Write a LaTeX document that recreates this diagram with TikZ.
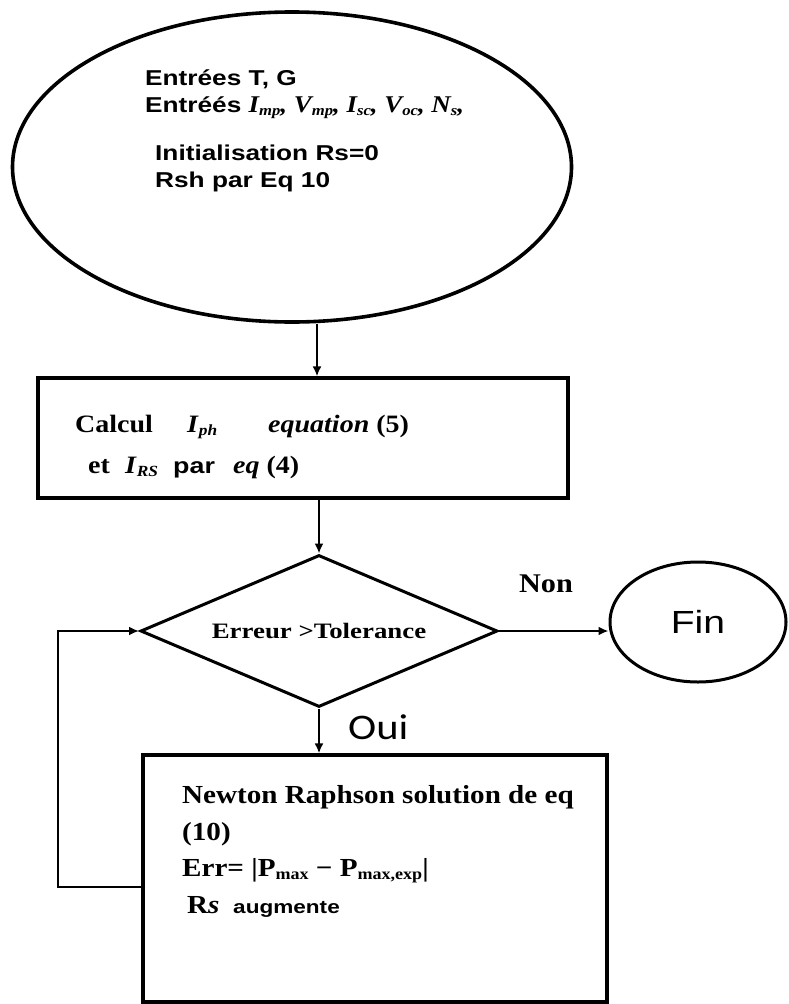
\documentclass[tikz,border=0pt]{standalone}
\usepackage{fontspec}
\usepackage{graphicx}
\usetikzlibrary{shapes.geometric,arrows.meta}

% Text faces
\newfontfamily\sansw[FakeStretch=1.22]{Liberation Sans}
\newfontfamily\serifw[FakeStretch=1.12]{Liberation Serif}
\newfontfamily\serifd[FakeStretch=1.22]{Liberation Serif}
\newfontfamily\calw[FakeStretch=1.18]{Carlito}

% lowered subscript in running text
\newcommand\lowsub[1]{\raisebox{-0.32ex}{\scalebox{0.62}{#1}}}

\tikzset{
  shapeline/.style={draw=black, line width=3.2pt},
  arr/.style={draw=black, line width=2.4pt, -{Latex[length=10pt,width=9pt]}},
  txt/.style={inner sep=0pt, anchor=base west},
  ovaltext/.style={txt, font={\sansw\bfseries\fontsize{21.5pt}{24pt}\selectfont}},
  boxtext/.style={txt, font={\serifw\bfseries\fontsize{25pt}{28pt}\selectfont}},
  itertext/.style={txt, font={\serifw\bfseries\fontsize{26pt}{28pt}\selectfont}},
}

\begin{document}
\begin{tikzpicture}[x=1pt,y=-1pt]
\useasboundingbox[fill=white] (0,0) rectangle (788,1004);

% start oval
\node[ellipse, shapeline, line width=3.6pt, minimum width=559pt, minimum height=310pt, inner sep=0pt] (start) at (292,167) {};
\node[ovaltext] (in1) at (145,85) {Entrées T, G};
\node[ovaltext] (in2) at (145,112) {Entréés {\serifw\fontsize{24pt}{26pt}\selectfont\bfseries\itshape
  I\lowsub{mp}, V\lowsub{mp}, I\lowsub{sc}, V\lowsub{oc}, N\lowsub{s},}};
\node[ovaltext] (in3) at (155,160) {Initialisation Rs=0};
\node[ovaltext] (in4) at (155,187) {Rsh par Eq 10};

% first computation block
\node[rectangle, shapeline, minimum width=530pt, minimum height=120pt, inner sep=0pt] (calc) at (303,438) {};
\node[boxtext] (c1) at (75,432) {Calcul};
\node[boxtext] (c2) at (187,432) {\textit{I}\lowsub{\textit{ph}}};
\node[boxtext] (c3) at (268,432) {\textit{equation} (5)};
\node[boxtext] (c4) at (88,473) {et};
\node[boxtext] (c5) at (125,473) {\textit{I}\lowsub{\textit{RS}}};
\node[txt, font={\sansw\bfseries\fontsize{22pt}{24pt}\selectfont}] (c6) at (173,473) {par};
\node[boxtext] (c7) at (233,473) {\textit{eq} (4)};

% test
\node[diamond, shapeline, line width=3pt, aspect=2.35, minimum width=357pt, minimum height=152pt, inner sep=0pt,
      font={\serifd\bfseries\fontsize{22pt}{24pt}\selectfont}] (test) at (319,631) {Erreur >Tolerance};

% end
\node[ellipse, shapeline, line width=3pt, minimum width=176pt, minimum height=120pt, inner sep=0pt,
      font={\sansw\fontsize{32pt}{34pt}\selectfont}] (fin) at (698,622) {Fin};
\node[inner sep=0pt, font={\serifw\bfseries\fontsize{27pt}{30pt}\selectfont}] (non) at (546,584) {Non};
\node[txt, font={\calw\fontsize{36pt}{38pt}\selectfont}] (oui) at (348,739) {Oui};

% iteration block
\node[rectangle, shapeline, minimum width=464pt, minimum height=247pt, inner sep=0pt] (iter) at (375,878.5) {};
\node[itertext] (n1) at (182,803) {Newton Raphson solution de eq};
\node[itertext] (n2) at (182,840) {(10)};
\node[itertext] (n3) at (182,876) {Err= |P\lowsub{max} − P\lowsub{max,exp}|};
\node[itertext] (n4) at (187,913) {R\textit{s}};
\node[txt, font={\sansw\bfseries\fontsize{18.5pt}{20pt}\selectfont}] (n5) at (233,913) {augmente};

% connectors
\coordinate (mainx) at (317,0);
\coordinate (loop) at (58,887);
\draw[arr] (start.south -| mainx) -- (calc.north -| mainx);
\draw[arr] (calc.south -| test.north) -- (test.north);
\draw[arr] (test.east) -- (test.east -| fin.west);
\draw[arr] (test.south) -- (test.south |- iter.north);
\draw[arr] ([xshift=4pt]loop -| iter.west) -- (loop) |- (test.west);
\end{tikzpicture}
\end{document}
